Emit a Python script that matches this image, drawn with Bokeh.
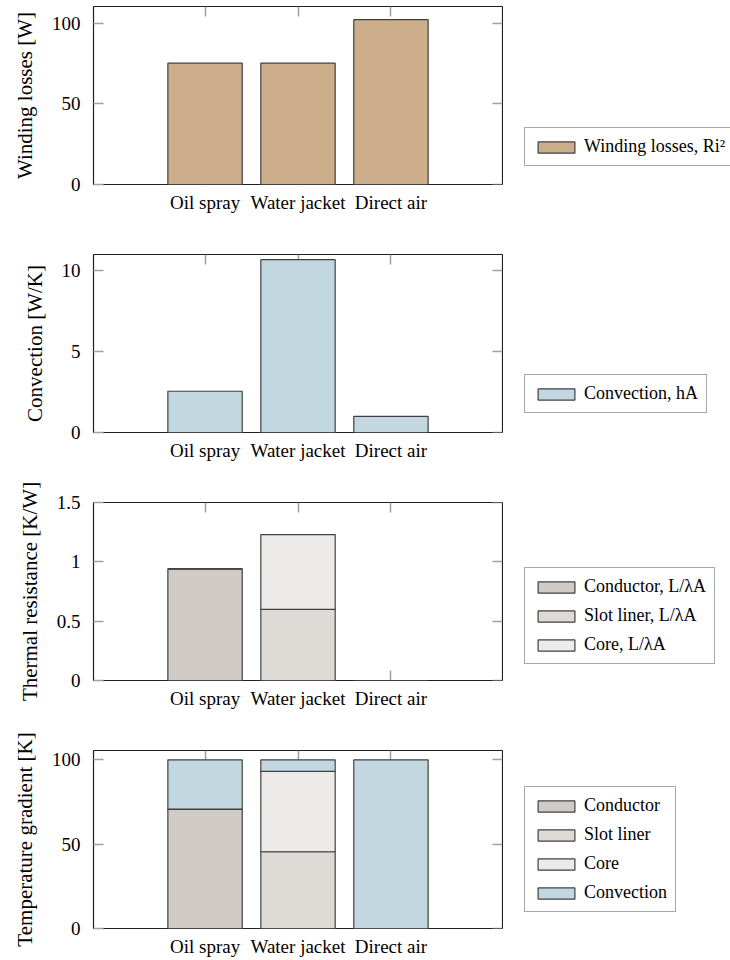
from bokeh.plotting import figure
from bokeh.models import (FactorRange, Range1d, LinearAxis, CategoricalAxis,
                          FixedTicker, Legend, LegendItem)
from bokeh.layouts import column, row
from bokeh.embed import file_html
from bokeh.resources import INLINE

# Cooling methods compared in every panel
methods = ["Oil spray", "Water jacket", "Direct air"]

# Winding losses [W]
winding_losses = [75.3, 75.3, 102.3]

# Convection conductance hA [W/K]
convection_ha = [2.55, 10.68, 1.0]

# Thermal resistances L/(lambda A) [K/W]
r_conductor = [0.94, 0.0, 0.0]
r_slot_liner = [0.0, 0.60, 0.0]
r_core = [0.0, 0.63, 0.0]

# Temperature gradient split [K]
dt_conductor = [70.8, 0.0, 0.0]
dt_slot_liner = [0.0, 45.5, 0.0]
dt_core = [0.0, 47.6, 0.0]
dt_convection = [29.2, 6.9, 100.0]

FONT = "Liberation Serif"
TICK = "#a0a0a0"
EDGE = "#404040"
C_WINDING = "#cdae8a"
C_CONV = "#c2d7df"
C_COND = "#d0cbc6"
C_SLOT = "#dedbd7"
C_CORE = "#ecebea"

FRAME_W = 409
FRAME_H = 178
LEFT_W = 93
LEGEND_W = 228


def tick_axis(ax):
    """Inward ticks only, no labels, drawn beneath the bars."""
    ax.axis_line_color = None
    ax.major_tick_in = 10
    ax.major_tick_out = 0
    ax.minor_tick_line_color = None
    ax.major_tick_line_color = TICK
    ax.major_tick_line_width = 1.5
    ax.major_label_text_font_size = "0px"
    ax.major_label_text_alpha = 0
    ax.major_label_standoff = 0
    ax.level = "underlay"
    return ax


def label_axis(ax):
    ax.axis_line_color = None
    ax.minor_tick_line_color = None
    ax.major_label_text_font = FONT
    ax.major_label_text_font_size = "19px"
    ax.major_label_text_color = "black"
    return ax


def make_panel(ylabel, y_end, yticks, top_border, bottom_border, overrides=None):
    p = figure(x_range=FactorRange(*methods, range_padding=0.7,
                                   range_padding_units="absolute"),
               y_range=Range1d(0, y_end),
               frame_width=FRAME_W, frame_height=FRAME_H,
               min_border_left=LEFT_W, min_border_right=1,
               min_border_top=top_border, min_border_bottom=bottom_border,
               x_axis_location=None, y_axis_location=None,
               output_backend="svg", toolbar_location=None,
               background_fill_color="white", border_fill_color="white")
    p.xgrid.visible = False
    p.ygrid.visible = False
    p.outline_line_color = "#202020"
    p.outline_line_width = 1.2

    # tick marks on all four sides, pointing into the frame
    p.add_layout(tick_axis(CategoricalAxis()), "below")
    p.add_layout(tick_axis(CategoricalAxis()), "above")
    p.add_layout(tick_axis(LinearAxis(ticker=FixedTicker(ticks=yticks))), "right")

    # category names under the frame
    bottom = label_axis(CategoricalAxis())
    bottom.major_tick_line_color = None
    bottom.major_tick_in = 0
    bottom.major_tick_out = 0
    bottom.major_label_standoff = 7
    p.add_layout(bottom, "below")

    left = label_axis(LinearAxis(ticker=FixedTicker(ticks=yticks)))
    left.major_tick_in = 10
    left.major_tick_out = 0
    left.major_tick_line_color = TICK
    left.major_tick_line_width = 1.5
    left.major_label_standoff = 13
    if overrides:
        left.major_label_overrides = overrides
    left.axis_label = ylabel
    left.axis_label_text_font = FONT
    left.axis_label_text_font_size = "21px"
    left.axis_label_text_font_style = "normal"
    left.axis_label_text_color = "black"
    left.axis_label_standoff = 12
    p.add_layout(left, "left")
    return p


def legend_panel(p, labels, fills, stackers, source, offset_y):
    """Key drawn beside the plot, fed by hidden copies of the plot's bars."""
    q = figure(x_range=FactorRange(*methods), y_range=Range1d(0, 1),
               width=LEGEND_W, height=p.frame_height + p.min_border_top + p.min_border_bottom,
               min_border=0, x_axis_location=None, y_axis_location=None,
               output_backend="svg", toolbar_location=None,
               background_fill_color="white", border_fill_color="white",
               outline_line_color=None)
    q.xgrid.visible = False
    q.ygrid.visible = False
    rs = q.vbar_stack(stackers, x="method", source=source, width=0.8,
                      fill_color=fills, line_color=EDGE, line_width=1.2)
    for r in rs:
        r.visible = False
    leg = Legend(items=[LegendItem(label=lab, renderers=[r]) for lab, r in zip(labels, rs)],
                 location=(21, offset_y))
    leg.border_line_color = "#505050"
    leg.border_line_width = 1
    leg.background_fill_color = "white"
    leg.background_fill_alpha = 1
    leg.padding = 8
    leg.spacing = 8
    leg.margin = 0
    leg.glyph_width = 46
    leg.glyph_height = 14
    leg.label_height = 20
    leg.label_standoff = 5
    leg.label_text_font = FONT
    leg.label_text_font_size = "18px"
    leg.label_text_color = "black"
    leg.inactive_fill_alpha = 0
    q.add_layout(leg)
    return row(p, q, spacing=0)


bar_kw = dict(width=0.8, line_color=EDGE, line_width=1.2)

# Panel 1: winding losses
src1 = dict(method=methods, losses=winding_losses)
p1 = make_panel("Winding losses [W]", 110.5, [0, 50, 100], 6, 40)
p1.vbar_stack(["losses"], x="method", source=src1, fill_color=[C_WINDING], **bar_kw)
row1 = legend_panel(p1, ["Winding losses, Ri²"], [C_WINDING], ["losses"], src1, 18)

# Panel 2: convection
src2 = dict(method=methods, conv=convection_ha)
p2 = make_panel("Convection [W/K]", 11.0, [0, 5, 10], 30, 40)
p2.vbar_stack(["conv"], x="method", source=src2, fill_color=[C_CONV], **bar_kw)
row2 = legend_panel(p2, ["Convection, hA"], [C_CONV], ["conv"], src2, 19)

# Panel 3: thermal resistance, stacked
src3 = dict(method=methods, conductor=r_conductor, slot=r_slot_liner, core=r_core)
p3 = make_panel("Thermal resistance [K/W]", 1.5, [0, 0.5, 1, 1.5], 30, 40,
                overrides={0: "0", 0.5: "0.5", 1: "1", 1.5: "1.5"})
p3.vbar_stack(["conductor", "slot", "core"], x="method", source=src3,
              fill_color=[C_COND, C_SLOT, C_CORE], **bar_kw)
row3 = legend_panel(p3, ["Conductor, L/λA", "Slot liner, L/λA", "Core, L/λA"],
                    [C_COND, C_SLOT, C_CORE], ["conductor", "slot", "core"], src3, 16)

# Panel 4: temperature gradient, stacked
src4 = dict(method=methods, conductor=dt_conductor, slot=dt_slot_liner,
            core=dt_core, conv=dt_convection)
p4 = make_panel("Temperature gradient [K]", 105.5, [0, 50, 100], 30, 30)
p4.vbar_stack(["conductor", "slot", "core", "conv"], x="method", source=src4,
              fill_color=[C_COND, C_SLOT, C_CORE, C_CONV], **bar_kw)
row4 = legend_panel(p4, ["Conductor", "Slot liner", "Core", "Convection"],
                    [C_COND, C_SLOT, C_CORE, C_CONV],
                    ["conductor", "slot", "core", "conv"], src4, 15)

layout = column(row1, row2, row3, row4, spacing=0)
open("out.html", "w").write(file_html(layout, INLINE))
